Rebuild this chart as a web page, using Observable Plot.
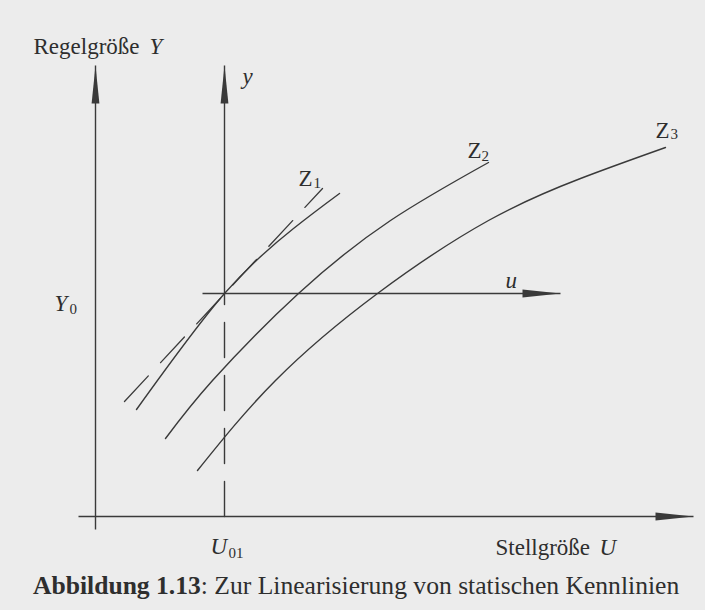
<!DOCTYPE html>
<html><head><meta charset="utf-8">
<script src="https://cdn.jsdelivr.net/npm/d3@7"></script>
<script src="https://cdn.jsdelivr.net/npm/@observablehq/plot@0.6"></script>
<style>
html,body{margin:0;padding:0;background:#ececec;}
#chart{width:705px;height:571px;}
#caption{font-family:"Liberation Serif",serif;font-size:25.6px;line-height:30px;color:#2e2e2e;padding-left:33px;white-space:nowrap;}
#caption b{font-weight:bold;}
</style></head><body>
<div id="chart"></div>
<div id="caption"><b>Abbildung 1.13</b>: Zur Linearisierung von statischen Kennlinien</div>
<script>
// ---- data (abstract units: Stellgröße U, Regelgröße Y) ----
const curveNames = ["Z1", "Z2", "Z3"];
const z1U = [0.41, 1.29, 1.98, 2.44];
const z1Y = [1.07, 2.23, 2.88, 3.23];
const z2U = [0.70, 1.17, 2.03, 2.95, 3.93];
const z2Y = [0.78, 1.36, 2.23, 2.96, 3.54];
const z3U = [1.02, 1.80, 2.82, 3.93, 4.85, 5.70];
const z3Y = [0.46, 1.36, 2.23, 2.96, 3.38, 3.69];

// operating point and tangent (linearisation)
const U01 = 1.29;
const Y0 = 2.23;
const tangentU = [0.29, 2.27];
const tangentY = [1.15, 3.28];

// axes extents
const mainAxisU = [-0.17, 5.98];
const mainAxisY = [-0.13, 4.51];
const localAxisU = [1.07, 4.65];
const localAxisYTop = 4.51;

// text labels
const romanLabels = [
  {t: "Regelgröße", U: -0.62, Y: 4.63},
  {t: "Stellgröße", U: 4.00, Y: -0.38},
  {t: "Z", U: 2.03, Y: 3.31},
  {t: "Z", U: 3.72, Y: 3.59},
  {t: "Z", U: 5.60, Y: 3.79}
];
const italicLabels = [
  {t: "Y", U: 0.54, Y: 4.63},
  {t: "U", U: 5.04, Y: -0.38},
  {t: "y", U: 1.47, Y: 4.33},
  {t: "u", U: 4.10, Y: 2.29},
  {t: "Y", U: -0.41, Y: 2.06},
  {t: "U", U: 1.15, Y: -0.37}
];
const subLabels = [
  {t: "1", U: 2.18, Y: 3.29},
  {t: "2", U: 3.86, Y: 3.56},
  {t: "3", U: 5.75, Y: 3.78},
  {t: "0", U: -0.26, Y: 2.03},
  {t: "01", U: 1.33, Y: -0.41}
];

// ---- build tables ----
const curveData = [
  ...z1U.map((u, i) => ({curve: curveNames[0], U: u, Y: z1Y[i]})),
  ...z2U.map((u, i) => ({curve: curveNames[1], U: u, Y: z2Y[i]})),
  ...z3U.map((u, i) => ({curve: curveNames[2], U: u, Y: z3Y[i]}))
];
const tangent = tangentU.map((u, i) => ({U: u, Y: tangentY[i]}));
const solidAxes = [
  {x1: mainAxisU[0], y1: 0, x2: mainAxisU[1], y2: 0},
  {x1: 0, y1: mainAxisY[0], x2: 0, y2: mainAxisY[1]},
  {x1: localAxisU[0], y1: Y0, x2: localAxisU[1], y2: Y0},
  {x1: U01, y1: Y0, x2: U01, y2: localAxisYTop}
];
const dashedDrop = [{U: U01, Y: 0}, {U: U01, Y: Y0}];
const upTips = [{U: 0, Y: mainAxisY[1]}, {U: U01, Y: localAxisYTop}];
const rightTips = [{U: mainAxisU[1], Y: 0}, {U: localAxisU[1], Y: Y0}];

const L = 38, W = 3.9;
const arrowUp = {draw(ctx) { ctx.moveTo(0, 0); ctx.lineTo(W, L); ctx.lineTo(-W, L); ctx.closePath(); }};
const arrowRight = {draw(ctx) { ctx.moveTo(0, 0); ctx.lineTo(-L, W); ctx.lineTo(-L, -W); ctx.closePath(); }};

const ink = "#3a3a3a";
const txt = "#2e2e2e";
const serif = "Liberation Serif";

const chart = Plot.plot({
  width: 705,
  height: 571,
  margin: 0,
  style: {background: "#ececec", color: ink},
  x: {domain: [-0.95, 6.10], range: [0, 705], axis: null},
  y: {domain: [-0.55, 5.16], axis: null},
  marks: [
    Plot.link(solidAxes, {x1: "x1", y1: "y1", x2: "x2", y2: "y2", stroke: ink, strokeWidth: 1.4}),
    Plot.line(dashedDrop, {x: "U", y: "Y", stroke: ink, strokeWidth: 1.4, strokeDasharray: "35,18"}),
    Plot.line(tangent, {x: "U", y: "Y", stroke: ink, strokeWidth: 1.3, strokeDasharray: "35,18"}),
    Plot.line(curveData, {x: "U", y: "Y", z: "curve", stroke: ink, strokeWidth: 1.4, curve: "natural"}),
    Plot.dot(upTips, {x: "U", y: "Y", symbol: arrowUp, fill: ink, stroke: "none"}),
    Plot.dot(rightTips, {x: "U", y: "Y", symbol: arrowRight, fill: ink, stroke: "none"}),
    Plot.text(romanLabels, {x: "U", y: "Y", text: "t", textAnchor: "start", lineAnchor: "bottom", fontFamily: serif, fontSize: 23, fill: txt}),
    Plot.text(italicLabels, {x: "U", y: "Y", text: "t", textAnchor: "start", lineAnchor: "bottom", fontFamily: serif, fontStyle: "italic", fontSize: 23, fill: txt}),
    Plot.text(subLabels, {x: "U", y: "Y", text: "t", textAnchor: "start", lineAnchor: "bottom", fontFamily: serif, fontSize: 15, fill: txt})
  ]
});
document.getElementById("chart").appendChild(chart);
</script>
</body></html>
